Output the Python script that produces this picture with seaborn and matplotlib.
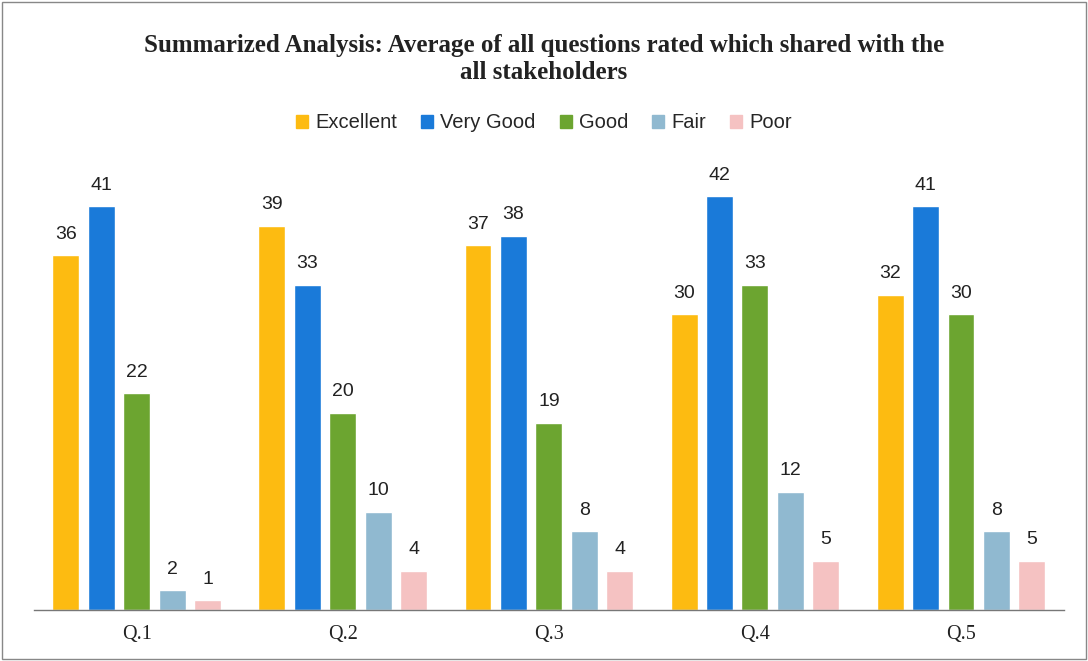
import pandas as pd
import matplotlib.pyplot as plt
import seaborn as sns

questions = ["Q.1", "Q.2", "Q.3", "Q.4", "Q.5"]
ratings = ["Excellent", "Very Good", "Good", "Fair", "Poor"]
excellent = [36, 39, 37, 30, 32]
very_good = [41, 33, 38, 42, 41]
good = [22, 20, 19, 33, 30]
fair = [2, 10, 8, 12, 8]
poor = [1, 4, 4, 5, 5]
colors = ["#FDBB11", "#1A7AD9", "#6CA530", "#90B9D0", "#F5C2C2"]


def main():
    series = [excellent, very_good, good, fair, poor]
    rows = []
    for rating, vals in zip(ratings, series):
        for q, v in zip(questions, vals):
            rows.append({"question": q, "rating": rating, "value": v})
    df = pd.DataFrame(rows)

    sns.set_theme(style="white")
    plt.rcParams["font.family"] = ["Liberation Sans", "DejaVu Sans"]

    fig = plt.figure(figsize=(10.88, 6.61), dpi=100)
    ax = fig.add_axes([0.031, 0.077, 0.947, 0.665])

    sns.barplot(data=df, x="question", y="value", hue="rating",
                order=questions, hue_order=ratings, palette=colors,
                width=0.86, saturation=1, ax=ax, legend=False)

    # narrow the bars inside each slot
    for patch in ax.patches:
        w = patch.get_width()
        patch.set_x(patch.get_x() + w * 0.12)
        patch.set_width(w * 0.76)

    for cont in ax.containers:
        ax.bar_label(cont, padding=9, fontsize=14, color="#222222")

    ax.set_ylim(0, 44.6)
    ax.set_xlim(-0.5, 4.5)
    ax.set_xlabel("")
    ax.set_ylabel("")
    ax.set_yticks([])
    ax.tick_params(axis="x", length=0, pad=11)
    for lab in ax.get_xticklabels():
        lab.set_fontfamily("Liberation Serif")
        lab.set_fontsize(14.5)
        lab.set_color("#222222")
    for side in ["top", "left", "right"]:
        ax.spines[side].set_visible(False)
    ax.spines["bottom"].set_color("#777777")
    ax.spines["bottom"].set_linewidth(1.0)

    # legend
    handles = [plt.Rectangle((0, 0), 1, 1, color=c) for c in colors]
    fig.legend(handles, ratings, loc="center", bbox_to_anchor=(0.5, 0.814),
               ncol=5, frameon=False, fontsize=14.5, handlelength=0.6,
               handleheight=0.6, handletextpad=0.35, columnspacing=1.2)

    fig.text(0.5, 0.911,
             "Summarized Analysis: Average of all questions rated which shared with the\nall stakeholders",
             ha="center", va="center", fontsize=18, fontweight="bold",
             family="Liberation Serif", color="#222222", linespacing=1.25)

    # thin frame around the chart
    fig.patches.append(plt.Rectangle((0.002, 0.003), 0.996, 0.994, fill=False,
                                     edgecolor="#888888", linewidth=1.0,
                                     transform=fig.transFigure, figure=fig))

    fig.savefig("out.png", dpi=100)


if __name__ == "__main__":
    main()
